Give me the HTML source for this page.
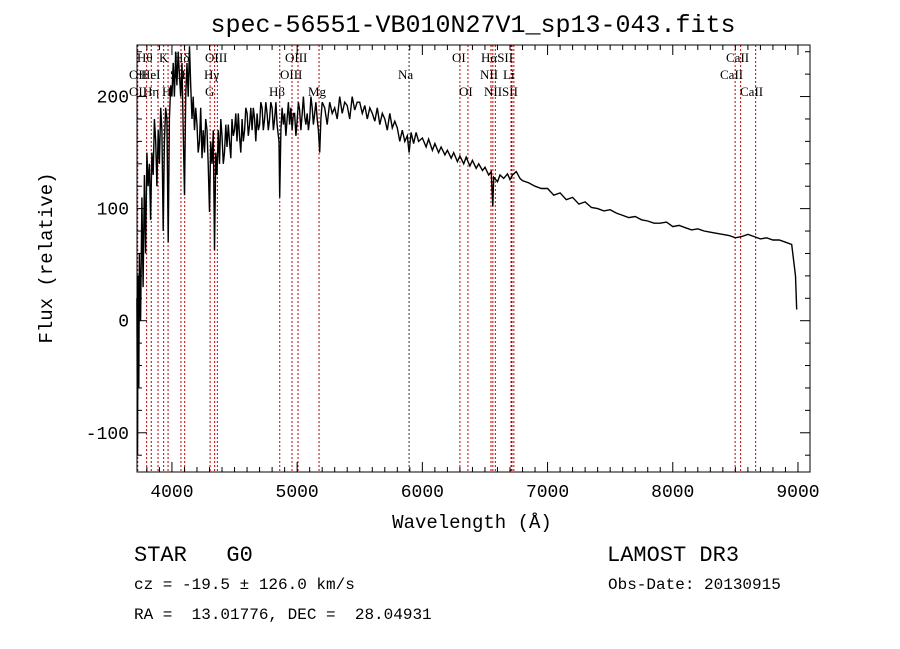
<!DOCTYPE html>
<html><head><meta charset="utf-8"><style>
body{margin:0;background:#fff}
svg{display:block}
text{font-family:"Liberation Mono",monospace;fill:#000;white-space:pre}
.lab{font-family:"Liberation Serif",serif;font-size:13px}
</style></head><body>
<svg id="chart" width="900" height="649" viewBox="0 0 900 649" xmlns="http://www.w3.org/2000/svg" xml:space="preserve">
<rect width="900" height="649" fill="#fff"/>
<text x="473" y="32" font-size="25" text-anchor="middle">spec-56551-VB010N27V1_sp13-043.fits</text>
<g id="lines"></g>
<g id="axes"></g>
<path id="spec" fill="none" stroke="#000" stroke-width="1.4"/>
<rect x="137" y="45" width="673" height="427" fill="none" stroke="#000" stroke-width="1"/>
<text transform="translate(52,258) rotate(-90)" font-size="19" text-anchor="middle">Flux (relative)</text>
<text x="472" y="528" font-size="19" text-anchor="middle">Wavelength (Å)</text>
<text x="134" y="561" font-size="22">STAR   G0</text>
<text x="607" y="561" font-size="22">LAMOST DR3</text>
<text x="134" y="589" font-size="16">cz = -19.5 ± 126.0 km/s</text>
<text x="608" y="589" font-size="16">Obs-Date: 20130915</text>
<text x="134" y="619" font-size="16">RA =  13.01776, DEC =  28.04931</text>
</svg>
<script>
const wave=[3720,3725,3730,3735,3740,3750,3760,3770,3780,3790,3800,3810,3820,3830,3840,3850,3860,3870,3880,3890,3900,3910,3920,3930,3940,3950,3960,3970,3980,3990,4000,4010,4020,4030,4040,4050,4060,4070,4080,4090,4100,4110,4120,4130,4140,4150,4160,4170,4180,4190,4200,4210,4220,4230,4240,4250,4260,4270,4280,4290,4300,4310,4320,4330,4340,4350,4360,4370,4380,4390,4400,4410,4420,4430,4440,4450,4460,4470,4480,4490,4500,4510,4520,4530,4540,4550,4560,4570,4580,4590,4600,4610,4620,4630,4640,4650,4660,4670,4680,4690,4700,4710,4720,4730,4740,4750,4760,4770,4780,4790,4800,4810,4820,4830,4840,4855,4861,4870,4880,4890,4900,4910,4920,4930,4940,4950,4960,4970,4980,4990,5000,5010,5020,5030,5040,5050,5060,5070,5080,5090,5100,5110,5120,5130,5140,5150,5160,5170,5180,5190,5200,5220,5240,5260,5280,5300,5320,5340,5360,5380,5400,5420,5440,5460,5480,5500,5520,5540,5560,5580,5600,5620,5640,5660,5680,5700,5720,5740,5760,5780,5800,5820,5840,5860,5880,5894,5910,5930,5950,5970,6000,6030,6050,6080,6100,6130,6150,6180,6200,6230,6250,6280,6300,6330,6350,6380,6400,6430,6450,6480,6500,6530,6550,6563,6570,6600,6620,6650,6680,6700,6720,6750,6780,6800,6850,6900,6950,7000,7050,7100,7150,7200,7250,7300,7350,7400,7450,7500,7550,7600,7650,7700,7750,7800,7850,7900,7950,8000,8050,8100,8150,8200,8250,8300,8350,8400,8450,8500,8550,8600,8650,8700,8750,8800,8850,8900,8950,8980,8990,8995];
const flux=[20,-120,40,-60,60,0,110,30,130,60,150,120,140,90,150,130,180,160,120,170,140,190,170,80,160,190,180,70,180,210,200,230,200,240,210,240,220,200,230,170,112,200,230,200,245,210,180,200,170,190,175,150,160,190,145,170,150,180,170,140,97,160,140,170,63,150,130,170,140,180,165,140,150,175,155,175,160,145,180,165,170,185,160,185,165,150,180,160,170,190,185,165,175,190,170,190,180,160,185,170,175,195,190,170,180,195,185,170,180,195,190,170,180,195,175,160,110,170,190,175,185,165,180,195,175,190,170,185,185,165,178,195,188,170,185,200,182,175,185,170,180,200,190,175,185,195,180,170,150,180,195,190,175,195,185,190,180,200,185,195,192,180,200,188,195,195,185,192,180,190,185,178,190,175,185,180,170,185,172,178,172,160,170,160,165,150,168,158,168,160,163,155,162,152,158,150,155,148,152,145,150,142,147,140,146,138,143,136,140,134,137,130,133,102,128,124,130,127,131,126,130,133,127,125,123,120,118,118,112,114,108,110,104,106,101,100,98,99,96,94,92,93,90,89,87,87,88,84,85,83,81,82,80,79,78,77,76,74,75,77,75,73,74,72,72,70,68,40,10];
const xTicks=[4000,5000,6000,7000,8000,9000];
const yTicks=[-100,0,100,200];
const lineWaves=[3727,3798,3835,3889,3934,3969,4072,4102,4305,4341,4363,4861,4959,5007,5175,5894,6300,6364,6548,6563,6583,6708,6716,6731,8498,8542,8662];
const lineNames=["Hθ","K","Hδ","OIII","OIII","OI","HαSII","CaII","OII","HeI","SII","Hγ","OIII","Na","NII","Li","CaII","OII","Hη","H","G","Hβ","Mg","OI","NIISII","CaII"];
const labelX=[137,159,174,205,285,452,481,726,129,141,170,204,280,398,480,503,720,129,143,162,205,269,308,459,484,740];
const labelRow=[0,0,0,0,0,0,0,0,1,1,1,1,1,1,1,1,1,2,2,2,2,2,2,2,2,2];
const X0=137,X1=810,W0=3721,W1=9096,Y0=45,Y1=472,F0=246,F1=-135;
const sx=w=>X0+(w-W0)/(W1-W0)*(X1-X0);
const sy=f=>Y0+(F0-f)/(F0-F1)*(Y1-Y0);
const NS="http://www.w3.org/2000/svg";
const lg=document.getElementById('lines');
lineWaves.forEach(w=>{const l=document.createElementNS(NS,'line');


l.setAttribute('x1',sx(w));l.setAttribute('x2',sx(w));l.setAttribute('y1',Y0);l.setAttribute('y2',Y1);
l.setAttribute('stroke',w>5800&&w<5950?'#333':'#c00000');l.setAttribute('stroke-width','1');l.setAttribute('stroke-dasharray','2,2');lg.appendChild(l);});
lineNames.forEach((n,i)=>{const t=document.createElementNS(NS,'text');


t.setAttribute('class','lab');t.setAttribute('x',labelX[i]);t.setAttribute('y',62+labelRow[i]*17);t.textContent=n;lg.appendChild(t);});
const ag=document.getElementById('axes');
function ln(x1,y1,x2,y2){const l=document.createElementNS(NS,'line');l.setAttribute('x1',x1);l.setAttribute('y1',y1);l.setAttribute('x2',x2);l.setAttribute('y2',y2);l.setAttribute('stroke','#000');ag.appendChild(l);return l;}
for(let w=3800;w<=9000;w+=100){const big=w%1000===0;const x=sx(w);
const a=ln(x,Y1,x,Y1-(big?10:5));
const b=ln(x,Y0,x,Y0+(big?10:5));}
for(let f=-120;f<=240;f+=20){const big=f%100===0;const y=sy(f);
const a=ln(X0,y,X0+(big?10:5),y);
const b=ln(X1,y,X1-(big?10:5),y);}
xTicks.forEach(v=>{const t=document.createElementNS(NS,'text');


t.setAttribute('x',sx(v));t.setAttribute('y',Y1+25);t.setAttribute('font-size','18');t.setAttribute('text-anchor','middle');t.textContent=v;ag.appendChild(t);});
yTicks.forEach(v=>{const t=document.createElementNS(NS,'text');


t.setAttribute('x',X0-8);t.setAttribute('y',sy(v)+6);t.setAttribute('font-size','18');t.setAttribute('text-anchor','end');t.textContent=v;ag.appendChild(t);});
let d='';wave.forEach((w,i)=>{let f=Math.max(F1,Math.min(F0,flux[i]));d+=(i?'L':'M')+sx(w).toFixed(1)+','+sy(f).toFixed(1);});
document.getElementById('spec').setAttribute('d',d);
</script>
</body></html>
